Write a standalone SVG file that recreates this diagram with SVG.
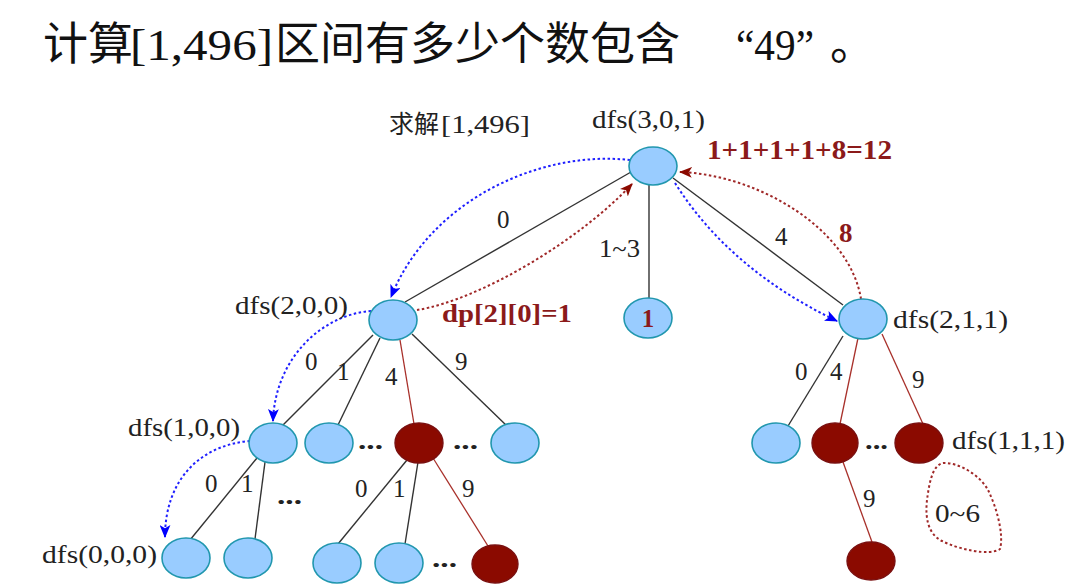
<svg xmlns="http://www.w3.org/2000/svg" width="1082" height="587" viewBox="0 0 1082 587">
<style>
.nb{fill:#99CCFF;stroke:#2197AE;stroke-width:1.6}
.nr{fill:#8B0A00;stroke:#7A1010;stroke-width:1.4}
.e{stroke:#333;stroke-width:1.4;fill:none}
.er{stroke:#A8302A;stroke-width:1.3;fill:none}
.db{stroke:#1F1FFF;stroke-width:2;stroke-dasharray:2.5 2.5;fill:none}
.dr{stroke:#A02828;stroke-width:2;stroke-dasharray:2.5 2.5;fill:none}
.t{font-family:"Liberation Serif","Noto Sans CJK SC",serif;font-size:25px;fill:#222}
.lat{font-family:"Liberation Serif",serif}
.rb{font-weight:bold;fill:#8B1A1A}
.dots{font-weight:bold}
.title{font-family:"Liberation Serif","Noto Sans CJK SC",serif;font-size:45px;fill:#111}
</style>
<defs>
<marker id="ab" viewBox="0 0 12 10" refX="11" refY="5" markerWidth="13" markerHeight="11" orient="auto" markerUnits="userSpaceOnUse"><path d="M0,0 L12,5 L0,10 L3,5 z" fill="#0000FF"/></marker>
<marker id="ar" viewBox="0 0 12 10" refX="11" refY="5" markerWidth="13" markerHeight="11" orient="auto" markerUnits="userSpaceOnUse"><path d="M0,0 L12,5 L0,10 L3,5 z" fill="#8B0A00"/></marker>
</defs>
<rect width="1082" height="587" fill="#fff"/>
<text class="title" y="60"><tspan x="43">计算</tspan><tspan class="lat" x="130" textLength="143" lengthAdjust="spacingAndGlyphs">[1,496]</tspan><tspan x="275">区间有多少个数包含</tspan><tspan class="lat" x="736" textLength="78" lengthAdjust="spacingAndGlyphs">“49”</tspan><tspan x="830">。</tspan></text>
<text class="t" y="133"><tspan x="389">求解</tspan><tspan class="lat" x="441" textLength="89" lengthAdjust="spacingAndGlyphs">[1,496]</tspan></text>
<g id="connectors">
<path class="e" d="M631 172 L405 302"/>
<path class="e" d="M649 185 L649 298"/>
<path class="e" d="M673 178 L843 305"/>
<path class="e" d="M373 335 L283 425"/>
<path class="e" d="M380 338 L338 425"/>
<path class="er" d="M400 340 L414 424"/>
<path class="e" d="M412 334 L507 426"/>
<path class="e" d="M257 458 L190 540"/>
<path class="e" d="M265 462 L255 539"/>
<path class="e" d="M407 460 L338 544"/>
<path class="e" d="M418 462 L405 544"/>
<path class="er" d="M433 458 L488 546"/>
<path class="e" d="M843 336 L788 426"/>
<path class="er" d="M858 338 L840 424"/>
<path class="er" d="M882 334 L923 424"/>
<path class="er" d="M843 462 L872 542"/>
<path class="db" d="M630 160 C540 150 430 200 391 297" marker-end="url(#ab)"/>
<path class="dr" d="M417 310 C480 300 580 240 632 184" marker-end="url(#ar)"/>
<path class="db" d="M675 183 Q730 270 837 321" marker-end="url(#ab)"/>
<path class="dr" d="M861 299 C850 230 760 175 680 172" marker-end="url(#ar)"/>
<path class="db" d="M371 311 C320 315 275 360 273 421" marker-end="url(#ab)"/>
<path class="db" d="M250 441 C200 445 165 480 165 537" marker-end="url(#ab)"/>
<path class="dr" d="M943 463 C958 462 980 475 988 490 C997 508 1004 535 1000 549 C990 556 960 550 942 541 C928 534 925 518 927 500 C929 485 932 465 943 463 Z"/>
<text class="t" x="497" y="228">0</text>
<text class="t" x="599" y="257" textLength="41" lengthAdjust="spacingAndGlyphs">1~3</text>
<text class="t" x="775" y="245">4</text>
<text class="t rb" x="839" y="242" style="font-size:27px">8</text>
<text class="t" x="305" y="370">0</text>
<text class="t" x="337" y="380">1</text>
<text class="t" x="385" y="385">4</text>
<text class="t" x="455" y="370">9</text>
<text class="t" x="795" y="380">0</text>
<text class="t" x="830" y="380">4</text>
<text class="t" x="912" y="388">9</text>
<text class="t" x="205" y="492">0</text>
<text class="t" x="241" y="492">1</text>
<text class="t" x="355" y="497">0</text>
<text class="t" x="393" y="497">1</text>
<text class="t" x="462" y="497">9</text>
<text class="t" x="863" y="507">9</text>
<text class="t" x="935" y="522" textLength="45" lengthAdjust="spacingAndGlyphs">0~6</text>
<text class="t rb" x="707" y="159" style="font-size:27px" textLength="185" lengthAdjust="spacingAndGlyphs">1+1+1+1+8=12</text>
<text class="t rb" x="442" y="322" style="font-size:26px" textLength="130" lengthAdjust="spacingAndGlyphs">dp[2][0]=1</text>
<text class="t dots" x="358" y="449" textLength="25" lengthAdjust="spacingAndGlyphs">...</text>
<text class="t dots" x="453" y="449" textLength="25" lengthAdjust="spacingAndGlyphs">...</text>
<text class="t dots" x="865" y="449" textLength="23" lengthAdjust="spacingAndGlyphs">...</text>
<text class="t dots" x="277" y="504" textLength="25" lengthAdjust="spacingAndGlyphs">...</text>
<text class="t dots" x="432" y="567" textLength="25" lengthAdjust="spacingAndGlyphs">...</text>
</g>
<g id="n-root"><ellipse class="nb" cx="653" cy="166" rx="24" ry="19"/><text class="t" x="592" y="128" textLength="113" lengthAdjust="spacingAndGlyphs">dfs(3,0,1)</text></g>
<g id="n-one"><ellipse class="nb" cx="648" cy="318" rx="24" ry="20"/><text class="t rb" x="648" y="327" text-anchor="middle">1</text></g>
<g id="n-200"><ellipse class="nb" cx="393" cy="320" rx="24" ry="20"/><text class="t" x="235" y="314" textLength="113" lengthAdjust="spacingAndGlyphs">dfs(2,0,0)</text></g>
<g id="n-211"><ellipse class="nb" cx="863" cy="319" rx="24" ry="20"/><text class="t" x="893" y="328" textLength="115" lengthAdjust="spacingAndGlyphs">dfs(2,1,1)</text></g>
<g id="n-100"><ellipse class="nb" cx="273" cy="443" rx="24" ry="20"/><text class="t" x="128" y="436" textLength="112" lengthAdjust="spacingAndGlyphs">dfs(1,0,0)</text></g>
<g id="n-1b"><ellipse class="nb" cx="329" cy="443" rx="24" ry="20"/></g>
<g id="n-1r"><ellipse class="nr" cx="419" cy="443" rx="24" ry="20"/></g>
<g id="n-1c"><ellipse class="nb" cx="515" cy="443" rx="24" ry="20"/></g>
<g id="n-000"><ellipse class="nb" cx="186" cy="558" rx="24" ry="20"/><text class="t" x="42" y="563" textLength="115" lengthAdjust="spacingAndGlyphs">dfs(0,0,0)</text></g>
<g id="n-0b"><ellipse class="nb" cx="248" cy="558" rx="24" ry="20"/></g>
<g id="n-0c"><ellipse class="nb" cx="337" cy="563" rx="24" ry="20"/></g>
<g id="n-0d"><ellipse class="nb" cx="399" cy="563" rx="24" ry="20"/></g>
<g id="n-0r"><ellipse class="nr" cx="495" cy="564" rx="23" ry="19"/></g>
<g id="n-r3a"><ellipse class="nb" cx="776" cy="443" rx="24" ry="20"/></g>
<g id="n-r3b"><ellipse class="nr" cx="835" cy="443" rx="23" ry="20"/></g>
<g id="n-111"><ellipse class="nr" cx="919" cy="443" rx="24" ry="20"/><text class="t" x="952" y="449" textLength="113" lengthAdjust="spacingAndGlyphs">dfs(1,1,1)</text></g>
<g id="n-r4"><ellipse class="nr" cx="871" cy="561" rx="24" ry="19"/></g>
</svg>
